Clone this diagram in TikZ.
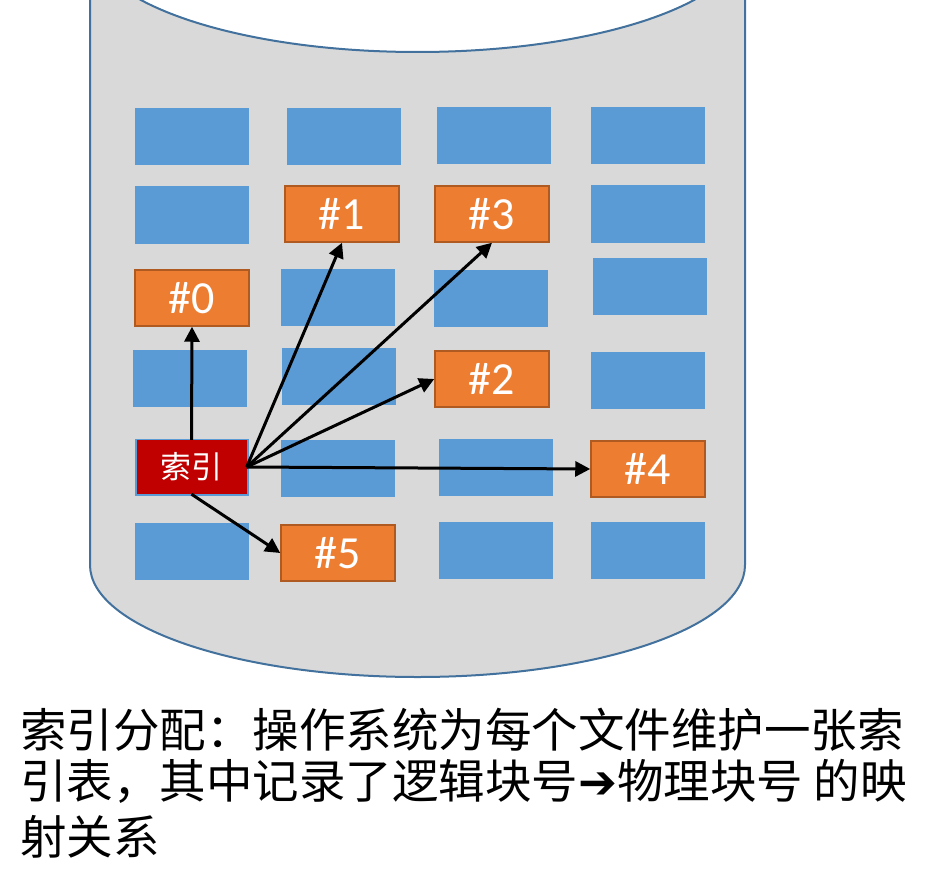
\documentclass[tikz,border=0pt]{standalone}
\usepackage{fontspec}
\setsansfont{Carlito}
\newfontfamily\cjk{Noto Sans CJK SC}
\newfontfamily\arrowfont{DejaVu Sans}
\usetikzlibrary{arrows.meta}

\definecolor{cylfill}{HTML}{D9D9D9}
\definecolor{cylline}{HTML}{41719C}
\definecolor{blkblue}{HTML}{5B9BD5}
\definecolor{blkorange}{HTML}{ED7D31}
\definecolor{blkorangeline}{HTML}{AE5A21}
\definecolor{idxred}{HTML}{C00000}

\tikzset{
  blk/.style={rectangle, fill=blkblue, minimum width=114pt, minimum height=57pt, inner sep=0pt},
  used/.style={rectangle, fill=blkorange, draw=blkorangeline, line width=1.5pt, minimum width=114pt, minimum height=56pt, inner sep=0pt, text=white, font=\sffamily\fontsize{46}{46}\selectfont},
  idx/.style={rectangle, fill=idxred, minimum width=110pt, minimum height=54pt, inner sep=0pt, text=white, font=\cjk\fontsize{31}{31}\selectfont},
  ptr/.style={-{Triangle[length=15pt, width=15pt]}, line width=3pt, black},
  caption/.style={anchor=west, inner sep=0pt, font=\cjk\fontsize{46.5}{46.5}\selectfont}
}

\begin{document}
\begin{tikzpicture}[x=1pt, y=-1pt]
  \useasboundingbox (0,0) rectangle (933,877);
  \clip (0,0) rectangle (933,877);
  % cylinder
  \draw[fill=cylfill, draw=cylline, line width=2pt] (90,-60) -- (90,565)
    arc[start angle=180, end angle=360, x radius=327.5pt, y radius=112pt] -- (745,-60);
  \draw[fill=white, draw=cylline, line width=2pt] (417.5,-60) ellipse [x radius=327.5pt, y radius=112pt];

  % free blocks
  \node[blk] (b11) at (192,137) {};
  \node[blk] (b12) at (344,137) {};
  \node[blk] (b13) at (494,136) {};
  \node[blk] (b14) at (648,136) {};
  \node[blk] (b21) at (192,215) {};
  \node[blk] (b24) at (648,214) {};
  \node[blk] (b32) at (338,297) {};
  \node[blk] (b33) at (491,298) {};
  \node[blk] (b34) at (650,286) {};
  \node[blk] (b41) at (190,378) {};
  \node[blk] (b42) at (339,376) {};
  \node[blk] (b44) at (648,380) {};
  \node[blk] (b51) at (191.5,467) {};
  \node[blk] (b52) at (338,468) {};
  \node[blk] (b53) at (496,467) {};
  \node[blk] (b61) at (192,551) {};
  \node[blk] (b63) at (496,550) {};
  \node[blk] (b64) at (648,550) {};

  % used blocks
  \node[used] (n0) at (192,298) {\#0};
  \node[used] (n1) at (342,214) {\#1};
  \node[used] (n3) at (492,214) {\#3};
  \node[used] (n2) at (492,379) {\#2};
  \node[used] (n4) at (648,469) {\#4};
  \node[used] (n5) at (338,553) {\#5};

  % index block
  \node[idx] (idx) at (191.5,467) {索引};

  % pointers
  \draw[ptr] (idx.north) -- (n0.south);
  \draw[ptr] (idx.east) -- (n1.south);
  \draw[ptr] (idx.east) -- (n3.south);
  \draw[ptr] (idx.east) -- (n2.west);
  \draw[ptr] (idx.east) -- (n4.west);
  \draw[ptr] (idx.south) -- (n5.west);

  % caption
  \node[caption] (cap1) at (20,730) {索引分配：操作系统为每个文件维护一张索};
  \node[caption] (cap2) at (20,781) {引表，其中记录了逻辑块号{\arrowfont\bfseries ➔}物理块号 的映};
  \node[caption] (cap3) at (20,837) {射关系};
\end{tikzpicture}
\end{document}
